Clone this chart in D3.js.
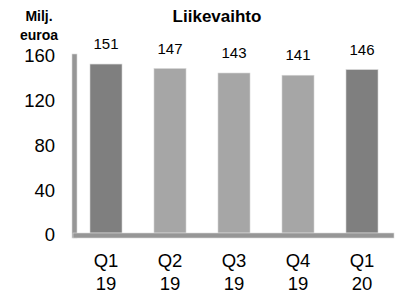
<!DOCTYPE html>
<html>
<head>
<meta charset="utf-8">
<script src="https://cdn.jsdelivr.net/npm/d3@7"></script>
<style>
  body { margin: 0; background: #fff; }
  text { font-family: Arial, "Liberation Sans", sans-serif; fill: #000; }
  .title { font-weight: bold; font-size: 17px; }
  .unit { font-weight: bold; font-size: 14px; }
  .tick { font-size: 18.5px; }
  .val { font-size: 15px; }
</style>
</head>
<body>
<svg id="chart" width="396" height="297"></svg>
<script>
var quarters = ["Q1", "Q2", "Q3", "Q4", "Q1"];
var years = ["19", "19", "19", "19", "20"];
var revenue = [151, 147, 143, 141, 146];
var yTicks = [0, 40, 80, 120, 160];

function drawChart() {
    var svg = d3.select("#chart");

    var x = d3.scaleBand()
              .domain(d3.range(revenue.length))
              .range([74, 394])
              .paddingInner(0.5)
              .paddingOuter(0.25);

    var y = d3.scaleLinear()
              .domain([0, 160])
              .range([233, 54]);

    // back wall
    svg.append("rect")
       .attr("x", 72)
       .attr("y", y(160))
       .attr("width", 5)
       .attr("height", 238 - y(160))
       .attr("fill", "#969696")
       .attr("stroke", "#d9d9d9")
       .attr("stroke-width", 0.6);

    svg.selectAll(".bar")
       .data(revenue)
       .enter().append("rect")
       .attr("class", "bar")
       .attr("x", function(d, i) { return x(i); })
       .attr("y", function(d) { return y(d); })
       .attr("width", x.bandwidth())
       .attr("height", function(d) { return y(0) - y(d); })
       .attr("fill", function(d, i) { return years[i] == "20" || i == 0 ? "#7f7f7f" : "#a6a6a6"; })
       .attr("stroke", "#d4d4d4")
       .attr("stroke-width", 0.6);

    // floor
    svg.append("rect")
       .attr("x", 73)
       .attr("y", y(0))
       .attr("width", 321)
       .attr("height", 5)
       .attr("fill", "#969696")
       .attr("stroke", "#d9d9d9")
       .attr("stroke-width", 0.6);

    svg.selectAll(".val")
       .data(revenue)
       .enter().append("text")
       .attr("class", "val")
       .attr("x", function(d, i) { return x(i) + x.bandwidth() / 2; })
       .attr("y", function(d) { return y(d) - 15; })
       .attr("text-anchor", "middle")
       .text(function(d) { return d; });

    svg.selectAll(".ytick")
       .data(yTicks)
       .enter().append("text")
       .attr("class", "tick")
       .attr("x", 55)
       .attr("y", function(d) { return y(d) + 2; })
       .attr("dy", "0.35em")
       .attr("text-anchor", "end")
       .text(function(d) { return d; });

    var xl = svg.selectAll(".xlab")
                .data(quarters)
                .enter().append("text")
                .attr("class", "tick")
                .attr("text-anchor", "middle")
                .attr("transform", function(d, i) {
                    return "translate(" + (x(i) + x.bandwidth() / 2) + ",0)";
                });
    xl.append("tspan")
      .attr("x", 0)
      .attr("y", 267)
      .text(function(d) { return d; });
    xl.append("tspan")
      .attr("x", 0)
      .attr("y", 289.5)
      .text(function(d, i) { return years[i]; });

    svg.append("text")
       .attr("class", "title")
       .attr("x", 217)
       .attr("y", 21.5)
       .attr("text-anchor", "middle")
       .text("Liikevaihto");

    svg.append("text")
       .attr("class", "unit")
       .attr("x", 39)
       .attr("y", 21)
       .attr("text-anchor", "middle")
       .text("Milj.");
    svg.append("text")
       .attr("class", "unit")
       .attr("x", 39)
       .attr("y", 39.5)
       .attr("text-anchor", "middle")
       .text("euroa");
}

drawChart();
</script>
</body>
</html>
